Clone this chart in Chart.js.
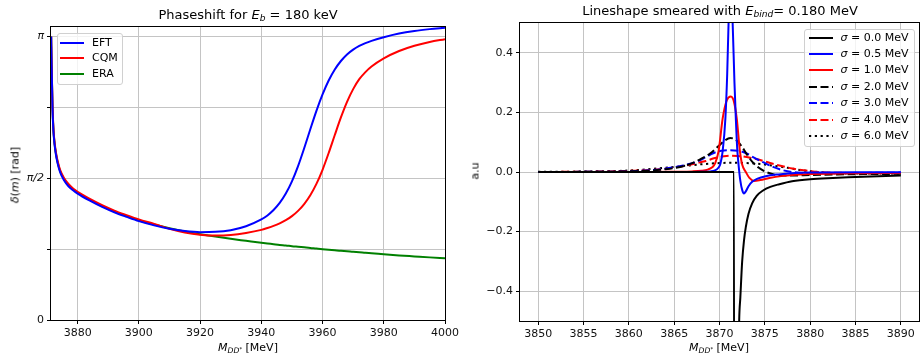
<!DOCTYPE html>
<html>
<head>
<meta charset="utf-8">
<script src="https://cdn.jsdelivr.net/npm/chart.js@4.4.1/dist/chart.umd.min.js"></script>
<style>
body { margin: 0; width: 920px; height: 354px; position: relative; background: #fff; overflow: hidden;
       font-family: "DejaVu Sans", sans-serif; color: #000; }
canvas { position: absolute; top: 0; }
.lbl { position: absolute; white-space: nowrap; line-height: 1; transform: translate(-50%, -50%); }
.rot { transform: translate(-50%, -50%) rotate(-90deg); }
.lbl sub { font-size: 70%; vertical-align: baseline; position: relative; top: 0.3em; }
.lbl sup { font-size: 70%; vertical-align: baseline; position: relative; top: -0.4em; }
.legend { position: absolute; background: rgba(255,255,255,0.8); border: 1px solid #d0d0d0; border-radius: 3px; font-size: 11px; }
.legend .row { position: absolute; left: 0; white-space: nowrap; line-height: 1; }
.legend svg { position: absolute; }
</style>
</head>
<body>
<canvas id="phaseChart" width="460" height="354" style="left:0"></canvas>
<canvas id="lineChart" width="460" height="354" style="left:460px"></canvas>

<div class="lbl" style="left:248px;top:14.5px;font-size:13px">Phaseshift for <i>E</i><sub><i>b</i></sub> = 180 keV</div>
<div class="lbl" style="left:720px;top:10.5px;font-size:13px">Lineshape smeared with <i>E</i><sub><i>bind</i></sub>= 0.180 MeV</div>
<div class="lbl" style="left:248px;top:347px;font-size:11px"><i>M</i><sub><i>DD</i><sup>*</sup></sub> [MeV]</div>
<div class="lbl" style="left:719px;top:347px;font-size:11px"><i>M</i><sub><i>DD</i><sup>*</sup></sub> [MeV]</div>
<div class="lbl rot" style="left:15px;top:175px;font-size:11px"><i>δ</i>(<i>m</i>) [rad]</div>
<div class="lbl rot" style="left:475px;top:171px;font-size:11px">a.u</div>

<div id="phaseLegend" class="legend" style="left:57px;top:33px;width:64px;height:50px"></div>
<div id="lineLegend" class="legend" style="left:804px;top:29px;width:109px;height:116px"></div>

<script>
// phase shift, delta/pi vs M_DD* (MeV)
const phaseMass = [3871.35, 3871.5, 3871.8, 3872.1, 3872.5, 3872.9, 3873.5, 3874.3, 3875.5, 3877, 3878.5, 3880,
    3884, 3888, 3892, 3896, 3900,
    3905, 3910, 3915, 3920, 3925, 3930, 3935, 3940,
    3942, 3944, 3946, 3948, 3950, 3952, 3954, 3956, 3958, 3960, 3962, 3964, 3966, 3968, 3970, 3972, 3974, 3976,
    3980, 3985, 3990, 3995, 4000];
const phaseEFT = [1.0, 0.897, 0.745, 0.665, 0.616, 0.584, 0.551, 0.521, 0.494, 0.472, 0.458, 0.446,
    0.421, 0.399, 0.380, 0.364, 0.349,
    0.334, 0.322, 0.314, 0.310, 0.311, 0.317, 0.331, 0.355,
    0.369, 0.388, 0.413, 0.446, 0.489, 0.543, 0.606, 0.673, 0.738, 0.796, 0.845, 0.884, 0.914, 0.937, 0.954, 0.967, 0.977, 0.985,
    0.998, 1.011, 1.020, 1.0265, 1.0315];
const phaseCQM = [1.0, 0.903, 0.755, 0.675, 0.624, 0.592, 0.559, 0.529, 0.502, 0.480, 0.464, 0.452,
    0.427, 0.405, 0.386, 0.370, 0.355,
    0.339, 0.322, 0.309, 0.301, 0.298, 0.300, 0.307, 0.318,
    0.3246, 0.332, 0.341, 0.3522, 0.3666, 0.3852, 0.4092, 0.4402, 0.4802, 0.5302, 0.5892, 0.6528, 0.7148, 0.7698, 0.8148, 0.8498, 0.8748, 0.8944,
    0.9232, 0.9492, 0.9677, 0.9812, 0.9912];
const phaseERA = [1.0, 0.90, 0.75, 0.67, 0.62, 0.588, 0.555, 0.525, 0.498, 0.476, 0.461, 0.449,
    0.424, 0.402, 0.383, 0.367, 0.352,
    0.337, 0.324, 0.3125, 0.303, 0.2945, 0.2865, 0.2795, 0.2725,
    0.270, 0.2675, 0.265, 0.263, 0.2605, 0.2585, 0.2565, 0.2545, 0.252, 0.250, 0.248, 0.246, 0.244, 0.2425, 0.2405, 0.239, 0.237, 0.2355,
    0.232, 0.228, 0.2245, 0.221, 0.218];
const phaseLabels = ['EFT', 'CQM', 'ERA'];
const phaseTicksX = [3880, 3900, 3920, 3940, 3960, 3980, 4000];
const phaseTicksY = [0, 0.25, 0.5, 0.75, 1];   // units of pi
const phaseTickLabels = ['0', '', 'π/2', '', 'π'];

// smeared lineshapes (a.u.) vs M_DD* (MeV)
const massS00 = [3850, 3871.6, 3871.62, 3872.0, 3872.17, 3872.3, 3872.5, 3872.7, 3872.9, 3873.2, 3873.6, 3874.1,
    3874.8, 3875.6, 3876.6, 3878, 3880, 3882.5, 3885, 3887.5, 3890];
const lineS00 = [0, 0, -2, -0.85, -0.5, -0.42, -0.30, -0.23, -0.185, -0.14, -0.105, -0.08,
    -0.062, -0.05, -0.041, -0.031, -0.024, -0.02, -0.017, -0.014, -0.012];
const massS05 = [3850, 3865, 3868, 3869, 3869.5, 3869.9, 3870.1, 3870.35, 3870.65, 3870.85, 3871.0, 3871.2, 3871.45, 3871.65,
    3871.8, 3871.95, 3872.1, 3872.3, 3872.5, 3872.7, 3872.9, 3873.2, 3873.6, 3874.2, 3875.1, 3876.5, 3878, 3880, 3885, 3890];
const lineS05 = [0, 0, 0.001, 0.002, 0.005, 0.015, 0.028, 0.07, 0.18, 0.33, 0.5, 0.66, 0.5, 0.3,
    0.18, 0.08, 0.025, -0.03, -0.06, -0.072, -0.065, -0.048, -0.033, -0.022, -0.014, -0.008, -0.004, -0.002, -0.001, -0.001];
const massS10 = [3850, 3862, 3865, 3867, 3868, 3868.7, 3869.2, 3869.5, 3869.9, 3870.35, 3870.8, 3871.25, 3871.6,
    3871.9, 3872.25, 3872.5, 3872.9, 3873.3, 3873.8, 3874.5, 3875.5, 3877, 3878, 3880, 3885, 3890];
const lineS10 = [0, 0, 0.001, 0.002, 0.004, 0.008, 0.016, 0.028, 0.07, 0.18, 0.24, 0.253, 0.235,
    0.18, 0.07, 0.025, 0.0, -0.02, -0.03, -0.027, -0.02, -0.013, -0.01, -0.007, -0.004, -0.003];
const massS20 = [3850, 3855, 3858, 3860, 3862, 3864, 3865.5, 3867, 3868, 3869, 3870, 3870.6, 3871.2,
    3871.8, 3872.4, 3873, 3873.6, 3874.3, 3875, 3876, 3877, 3878, 3880, 3883, 3886, 3890];
const lineS20 = [0, 0.0005, 0.001, 0.002, 0.004, 0.009, 0.016, 0.03, 0.045, 0.063, 0.09, 0.106, 0.114,
    0.108, 0.088, 0.06, 0.035, 0.015, 0.002, -0.008, -0.012, -0.012, -0.01, -0.008, -0.007, -0.006];
const massS30 = [3850, 3855, 3858, 3860, 3862, 3864, 3866, 3867.5, 3868.5, 3869.3, 3870.2, 3871.2,
    3872.2, 3873, 3873.7, 3874.8, 3875.9, 3877, 3878, 3880, 3883, 3886, 3890];
const lineS30 = [0, 0.0005, 0.001, 0.002, 0.005, 0.011, 0.022, 0.035, 0.05, 0.063, 0.071, 0.073,
    0.071, 0.062, 0.05, 0.033, 0.017, 0.006, 0, -0.004, -0.004, -0.003, -0.002];
const massS40 = [3850, 3855, 3858, 3860, 3862, 3863.5, 3865, 3866.4, 3867.5, 3868.5, 3869.5, 3870.5,
    3871.2, 3872, 3873, 3874.4, 3875.5, 3876.6, 3878, 3879.5, 3881, 3884, 3887, 3890];
const lineS40 = [0, 0.001, 0.002, 0.004, 0.006, 0.009, 0.015, 0.022, 0.03, 0.037, 0.047, 0.053,
    0.055, 0.054, 0.05, 0.041, 0.031, 0.022, 0.012, 0.005, 0, -0.003, -0.004, -0.004];
const massS60 = [3850, 3853, 3856, 3858, 3860, 3862, 3864, 3866, 3868, 3870, 3871.5, 3873, 3874.5,
    3876, 3877.5, 3879, 3880.5, 3882, 3885, 3890];
const lineS60 = [0.0005, 0.001, 0.002, 0.003, 0.005, 0.009, 0.014, 0.02, 0.026, 0.03, 0.031, 0.03, 0.027,
    0.021, 0.014, 0.006, 0.001, -0.003, -0.005, -0.005];
const sigmaLabels = ['0.0', '0.5', '1.0', '2.0', '3.0', '4.0', '6.0'];
const lineTicksX = [3850, 3855, 3860, 3865, 3870, 3875, 3880, 3885, 3890];
const lineTicksY = [-0.4, -0.2, 0, 0.2, 0.4];

const FONT = { family: 'DejaVu Sans', size: 11 };
const DASHED = [8, 3.5];
const DOTTED = [2.2, 3.6];

function toPoints(xs, ys, scale) {
    return xs.map((x, i) => ({ x: x, y: ys[i] * (scale || 1) }));
}

// matplotlib-like frame around the axes
const framePlugin = {
    id: 'frame',
    afterDatasetsDraw(chart) {
        const { ctx, chartArea: a } = chart;
        ctx.save();
        ctx.strokeStyle = '#000';
        ctx.lineWidth = 1;
        ctx.strokeRect(Math.round(a.left) - 0.5, Math.round(a.top) - 0.5,
            Math.round(a.right - a.left) + 1, Math.round(a.bottom - a.top) + 1);
        ctx.restore();
    }
};

function axis(min, max, ticks, fitSize, isX, labelFn, fontFn) {
    return {
        type: 'linear', min: min, max: max,
        afterBuildTicks: s => { s.ticks = ticks.map(v => ({ value: v })); },
        afterFit: s => {
            if (isX) s.height = fitSize; else s.width = fitSize;
            s.paddingLeft = 0; s.paddingRight = 0; s.paddingTop = 0; s.paddingBottom = 0;
        },
        grid: { color: '#c4c4c4', lineWidth: 1, tickColor: '#000', tickLength: 4, drawTicks: true },
        border: { display: false },
        ticks: { font: fontFn || FONT, color: '#111', padding: 3, maxRotation: 0, autoSkip: false,
                 callback: labelFn || (v => v) }
    };
}

function baseOptions(padding, x, y) {
    return {
        responsive: false, animation: false, devicePixelRatio: 1,
        layout: { padding: padding },
        plugins: { legend: { display: false }, title: { display: false }, tooltip: { enabled: false } },
        elements: { point: { radius: 0 } },
        scales: { x: x, y: y }
    };
}

// left: phase shift
const phaseColors = ['#0000ff', '#ff0000', '#008000'];
const phaseSeries = [phaseEFT, phaseCQM, phaseERA];
new Chart(document.getElementById('phaseChart'), {
    type: 'line',
    data: {
        datasets: phaseSeries.map((vals, i) => ({
            label: phaseLabels[i],
            data: toPoints(phaseMass, vals, Math.PI),
            borderColor: phaseColors[i],
            borderWidth: 2,
            cubicInterpolationMode: 'monotone',
            fill: false
        }))
    },
    options: baseOptions({ left: 0, right: 15, top: 27, bottom: 0 },
        axis(3871.3, 4000, phaseTicksX, 34, true),
        axis(0, 1.034 * Math.PI, phaseTicksY.map(t => t * Math.PI), 51, false,
            (v, i) => phaseTickLabels[i],
            c => Object.assign({}, FONT, { style: c.index > 0 ? 'italic' : 'normal' }))),
    plugins: [framePlugin]
});

// right: lineshapes
const lineMasses = [massS00, massS05, massS10, massS20, massS30, massS40, massS60];
const lineValues = [lineS00, lineS05, lineS10, lineS20, lineS30, lineS40, lineS60];
const lineColors = ['#000000', '#0000ff', '#ff0000', '#000000', '#0000ff', '#ff0000', '#000000'];
const lineDashes = [[], [], [], DASHED, DASHED, DASHED, DOTTED];
new Chart(document.getElementById('lineChart'), {
    type: 'line',
    data: {
        datasets: lineValues.map((vals, i) => ({
            label: 'σ = ' + sigmaLabels[i] + ' MeV',
            data: toPoints(lineMasses[i], vals),
            borderColor: lineColors[i],
            borderDash: lineDashes[i],
            borderWidth: 2,
            cubicInterpolationMode: 'monotone',
            fill: false
        }))
    },
    options: baseOptions({ left: 0, right: 1, top: 23, bottom: 0 },
        axis(3848, 3892, lineTicksX, 33, true),
        axis(-0.5, 0.5, lineTicksY, 60, false,
            v => (v < 0 ? '\u2212' : '') + Math.abs(v).toFixed(1))),
    plugins: [framePlugin]
});

// legends (inside the axes, like matplotlib)
function buildLegend(el, texts, colors, dashes, first, gap, lineX, textX) {
    texts.forEach((t, i) => {
        const cy = first + i * gap;
        const dash = dashes[i].length ? dashes[i].join(',') : 'none';
        el.insertAdjacentHTML('beforeend',
            '<svg style="left:' + lineX + 'px;top:' + (cy - 3) + 'px" width="24" height="6">' +
            '<line x1="0" y1="3" x2="24" y2="3" stroke="' + colors[i] + '" stroke-width="2" stroke-dasharray="' + dash + '"/></svg>' +
            '<div class="row" style="left:' + textX + 'px;top:' + (cy - 6) + 'px">' + t + '</div>');
    });
}
buildLegend(document.getElementById('phaseLegend'), phaseLabels, phaseColors, [[], [], []], 8.5, 15.8, 2, 34);
buildLegend(document.getElementById('lineLegend'),
    sigmaLabels.map(s => '<i>σ</i> = ' + s + ' MeV'), lineColors, lineDashes, 7.5, 16.4, 3.5, 35.5);
</script>
</body>
</html>
